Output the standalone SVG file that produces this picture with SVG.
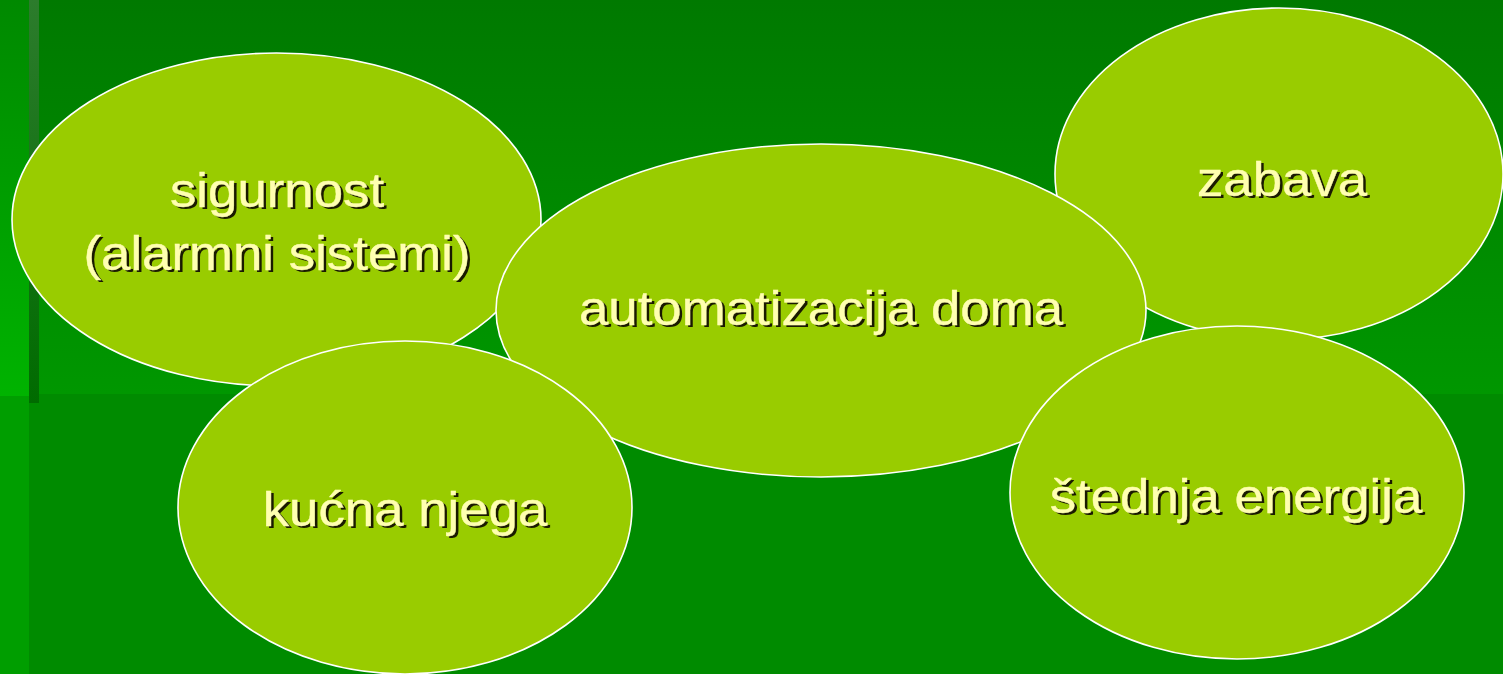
<svg xmlns="http://www.w3.org/2000/svg" width="1503" height="674" viewBox="0 0 1503 674">
<defs>
<linearGradient id="gTop" x1="0" y1="0" x2="0" y2="1"><stop offset="0" stop-color="#007900"/><stop offset="1" stop-color="#009700"/></linearGradient>
<linearGradient id="gLeft" x1="0" y1="0" x2="0" y2="1"><stop offset="0" stop-color="#008900"/><stop offset="1" stop-color="#00b300"/></linearGradient>
<linearGradient id="gStripe" x1="0" y1="0" x2="0" y2="1"><stop offset="0" stop-color="#2c7c2c"/><stop offset="1" stop-color="#006b00"/></linearGradient>
<style>
.el{fill:#99cc00;stroke:#ffffff;stroke-width:1.6}
.t{font-family:"Liberation Sans",Arial,sans-serif;font-size:48px;text-anchor:middle}
.sh{fill:#1a1a00}
.fg{fill:#ffffb0;stroke:#ffffb0;stroke-width:0.4}
</style>
</defs>
<g id="background">
<rect x="0" y="0" width="1503" height="674" fill="#008b00"/>
<rect x="0" y="0" width="1503" height="394" fill="url(#gTop)"/>
<rect x="0" y="0" width="29" height="396" fill="url(#gLeft)"/>
<rect x="0" y="396" width="29" height="278" fill="#009e00"/>
<rect x="29" y="0" width="10" height="403" fill="url(#gStripe)"/>
</g>
<g id="connectors"></g>
<g id="sigurnost">
<ellipse class="el" cx="276.5" cy="219.5" rx="264.5" ry="166.5"/>
<g transform="translate(277,0) scale(1.1,1)">
<text class="t sh" x="2.5" y="209.5">sigurnost</text>
<text class="t fg" x="0" y="207">sigurnost</text>
<text class="t sh" x="2.5" y="272.5">(alarmni sistemi)</text>
<text class="t fg" x="0" y="270">(alarmni sistemi)</text>
</g>
</g>
<g id="zabava">
<ellipse class="el" cx="1279" cy="174" rx="224" ry="166"/>
<g transform="translate(1282,0) scale(1.1,1)">
<text class="t sh" x="2.5" y="198.5">zabava</text>
<text class="t fg" x="0" y="196">zabava</text>
</g>
</g>
<g id="automatizacija">
<ellipse class="el" cx="821" cy="310.5" rx="325" ry="166.5"/>
<g transform="translate(821,0) scale(1.1,1)">
<text class="t sh" x="2.5" y="327.5">automatizacija doma</text>
<text class="t fg" x="0" y="325">automatizacija doma</text>
</g>
</g>
<g id="kucna-njega">
<ellipse class="el" cx="405" cy="507.5" rx="227" ry="166.5"/>
<g transform="translate(405,0) scale(1.1,1)">
<text class="t sh" x="2.5" y="528.5">kućna njega</text>
<text class="t fg" x="0" y="526">kućna njega</text>
</g>
</g>
<g id="stednja">
<ellipse class="el" cx="1237" cy="492.5" rx="227" ry="166.5"/>
<g transform="translate(1236,0) scale(1.1,1)">
<text class="t sh" x="2.5" y="515.5">štednja energija</text>
<text class="t fg" x="0" y="513">štednja energija</text>
</g>
</g>
</svg>
